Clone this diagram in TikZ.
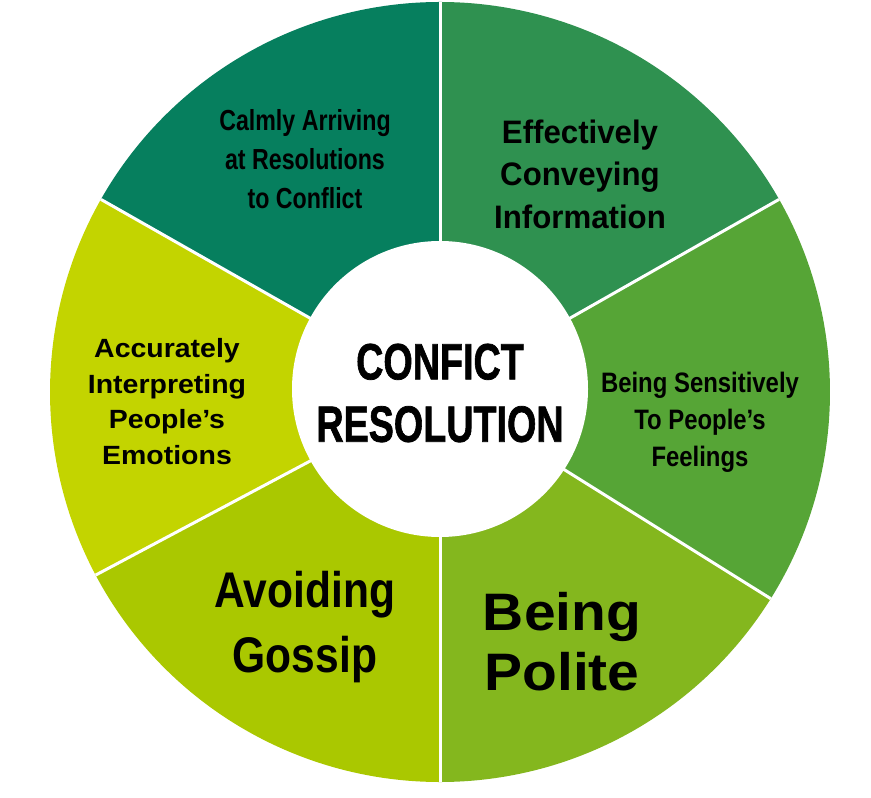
\documentclass[tikz,border=0pt]{standalone}
\usepackage{fontspec}
\setmainfont{Liberation Sans}
\newfontfamily\heavyfont[UprightFont=* Bold,FakeBold=1.5]{Liberation Sans}
\definecolor{segA}{HTML}{067F5E}
\definecolor{segB}{HTML}{2F9150}
\definecolor{segC}{HTML}{56A536}
\definecolor{segD}{HTML}{84B71E}
\definecolor{segE}{HTML}{AAC800}
\definecolor{segF}{HTML}{C3D400}
\tikzset{
  seglabel/.style={align=center,text=black,transform shape,inner sep=0pt},
  spoke/.style={draw=white,line width=.06cm},
}
\newcommand{\labelfont}[2]{\fontsize{#1}{#2}\selectfont\bfseries}
\begin{document}
\begin{tikzpicture}
\useasboundingbox (-8.8,-8.1) rectangle (8.62,7.84);
\foreach \a/\b/\c in {90/150.4/segA,29.6/90/segB,-32/29.6/segC,-90/-32/segD,-152/-90/segE,150.4/208/segF}
\fill[\c] (0,0) -- (\a:7.8) arc [start angle=\a,end angle=\b,radius=7.8] -- cycle;
\foreach \a in {90,150.4,208,270,-32,29.6}
\draw[spoke] (0,0) -- (\a:7.8);
\node[circle,fill=white,minimum size=5.92cm,inner sep=0pt] (hub) at (0,.06) {};
\node[seglabel,xscale=.74,font=\heavyfont\fontsize{29}{35.5}\selectfont] (title) at (0,-.02) {CONFICT\\RESOLUTION};
\node[seglabel,xscale=.8,font=\labelfont{16.5}{22.3}] (calm) at (-2.7,4.66) {Calmly Arriving\\at Resolutions\\to Conflict};
\node[seglabel,xscale=.96,font=\labelfont{18.5}{24.2}] (info) at (2.8,4.36) {Effectively\\Conveying\\Information};
\node[seglabel,xscale=.85,font=\labelfont{16}{21}] (feel) at (5.2,-.6) {Being Sensitively\\To People's\\Feelings};
\node[seglabel,xscale=1.08,font=\labelfont{30}{34}] (polite) at (2.44,-5) {Being\\Polite};
\node[seglabel,xscale=.85,font=\labelfont{28.5}{37.5}] (gossip) at (-2.7,-4.7) {Avoiding\\Gossip};
\node[seglabel,xscale=1.08,font=\labelfont{15}{20.3}] (emot) at (-5.46,-.19) {Accurately\\Interpreting\\People's\\Emotions};
\end{tikzpicture}
\end{document}
